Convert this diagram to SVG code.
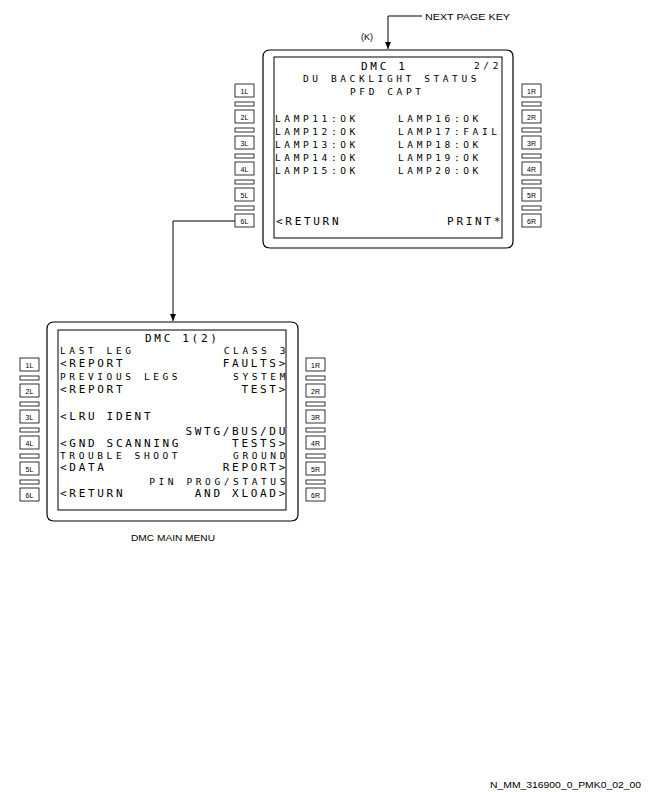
<svg xmlns="http://www.w3.org/2000/svg" width="648" height="792" viewBox="0 0 648 792">
<style>
.frame{fill:none;stroke:#000;stroke-width:1.2}
.scr{fill:none;stroke:#000;stroke-width:1}
.btn{fill:#fff;stroke:#000;stroke-width:0.8}
.bl{font-family:"Liberation Sans",Arial,sans-serif;font-size:7px;text-anchor:middle}
.L{font-family:"DejaVu Sans Mono",monospace;font-size:11px;letter-spacing:2.7px}
.S{font-family:"DejaVu Sans Mono",monospace;font-size:9.5px;letter-spacing:3.6px}
.Le{font-family:"DejaVu Sans Mono",monospace;font-size:11px;letter-spacing:2.7px;text-anchor:end}
.Se{font-family:"DejaVu Sans Mono",monospace;font-size:9.5px;letter-spacing:3.6px;text-anchor:end}
.cap{font-family:"Liberation Sans",Arial,sans-serif;font-size:9px}
.conn{fill:none;stroke:#000;stroke-width:1}
</style>
<defs>
<marker id="ah" markerWidth="8" markerHeight="10" refX="7" refY="4" orient="auto" markerUnits="userSpaceOnUse">
<path d="M0,1 L7,4 L0,7 Z" fill="#000"/>
</marker>
</defs>
<rect width="648" height="792" fill="#fff"/>

<g id="connectors">
<path class="conn" d="M422 16 H388 V49" marker-end="url(#ah)"/>
<path class="conn" d="M235 221 H173 V321" marker-end="url(#ah)"/>
</g>

<g id="next-page-key">
<text class="cap" x="425" y="20" font-size="10" textLength="85" lengthAdjust="spacingAndGlyphs">NEXT PAGE KEY</text>
<text class="cap" x="361" y="40" font-size="8">(K)</text>
</g>

<g id="mcdu-backlight">
<path class="frame" d="M270 50 H506 Q513 50 513 57 V241 Q513 248 506 248 H270 Q263 248 263 241 V57 Q263 50 270 50 Z"/>
<rect class="scr" x="274" y="57" width="228" height="181"/>
<g id="upper-left-keys">
<rect class="btn" x="235" y="84" width="19" height="13"/><text class="bl" x="244.5" y="93.5">1L</text>
<rect class="btn" x="235" y="102" width="19" height="4"/>
<rect class="btn" x="235" y="110" width="19" height="13"/><text class="bl" x="244.5" y="119.5">2L</text>
<rect class="btn" x="235" y="128" width="19" height="4"/>
<rect class="btn" x="235" y="136" width="19" height="13"/><text class="bl" x="244.5" y="145.5">3L</text>
<rect class="btn" x="235" y="154" width="19" height="4"/>
<rect class="btn" x="235" y="162" width="19" height="13"/><text class="bl" x="244.5" y="171.5">4L</text>
<rect class="btn" x="235" y="180" width="19" height="4"/>
<rect class="btn" x="235" y="188" width="19" height="13"/><text class="bl" x="244.5" y="197.5">5L</text>
<rect class="btn" x="235" y="206" width="19" height="4"/>
<rect class="btn" x="235" y="214" width="19" height="13"/><text class="bl" x="244.5" y="223.5">6L</text>
</g>
<g id="upper-right-keys">
<rect class="btn" x="522" y="84" width="19" height="13"/><text class="bl" x="531.5" y="93.5">1R</text>
<rect class="btn" x="522" y="102" width="19" height="4"/>
<rect class="btn" x="522" y="110" width="19" height="13"/><text class="bl" x="531.5" y="119.5">2R</text>
<rect class="btn" x="522" y="128" width="19" height="4"/>
<rect class="btn" x="522" y="136" width="19" height="13"/><text class="bl" x="531.5" y="145.5">3R</text>
<rect class="btn" x="522" y="154" width="19" height="4"/>
<rect class="btn" x="522" y="162" width="19" height="13"/><text class="bl" x="531.5" y="171.5">4R</text>
<rect class="btn" x="522" y="180" width="19" height="4"/>
<rect class="btn" x="522" y="188" width="19" height="13"/><text class="bl" x="531.5" y="197.5">5R</text>
<rect class="btn" x="522" y="206" width="19" height="4"/>
<rect class="btn" x="522" y="214" width="19" height="13"/><text class="bl" x="531.5" y="223.5">6R</text>
</g>
<text class="L" x="361" y="70">DMC 1</text>
<text class="Se" x="502" y="69">2/2</text>
<text class="S" x="303" y="82">DU BACKLIGHT STATUS</text>
<text class="S" x="350" y="95">PFD CAPT</text>
<text class="S" x="275" y="122">LAMP11:OK</text>
<text class="S" x="275" y="135">LAMP12:OK</text>
<text class="S" x="275" y="148">LAMP13:OK</text>
<text class="S" x="275" y="161">LAMP14:OK</text>
<text class="S" x="275" y="174">LAMP15:OK</text>
<text class="S" x="398" y="122">LAMP16:OK</text>
<text class="S" x="398" y="135">LAMP17:FAIL</text>
<text class="S" x="398" y="148">LAMP18:OK</text>
<text class="S" x="398" y="161">LAMP19:OK</text>
<text class="S" x="398" y="174">LAMP20:OK</text>
<text class="L" x="276" y="225">&lt;RETURN</text>
<text class="Le" x="503" y="225">PRINT*</text>
</g>

<g id="mcdu-main-menu">
<path class="frame" d="M54 322 H291 Q298 322 298 329 V514 Q298 521 291 521 H54 Q47 521 47 514 V329 Q47 322 54 322 Z"/>
<rect class="scr" x="58" y="330" width="228" height="180"/>
<g id="lower-left-keys">
<rect class="btn" x="20" y="358" width="19" height="13"/><text class="bl" x="29.5" y="367.5">1L</text>
<rect class="btn" x="20" y="376" width="19" height="4"/>
<rect class="btn" x="20" y="384" width="19" height="13"/><text class="bl" x="29.5" y="393.5">2L</text>
<rect class="btn" x="20" y="402" width="19" height="4"/>
<rect class="btn" x="20" y="410" width="19" height="13"/><text class="bl" x="29.5" y="419.5">3L</text>
<rect class="btn" x="20" y="428" width="19" height="4"/>
<rect class="btn" x="20" y="436" width="19" height="13"/><text class="bl" x="29.5" y="445.5">4L</text>
<rect class="btn" x="20" y="454" width="19" height="4"/>
<rect class="btn" x="20" y="462" width="19" height="13"/><text class="bl" x="29.5" y="471.5">5L</text>
<rect class="btn" x="20" y="480" width="19" height="4"/>
<rect class="btn" x="20" y="488" width="19" height="13"/><text class="bl" x="29.5" y="497.5">6L</text>
</g>
<g id="lower-right-keys">
<rect class="btn" x="306" y="358" width="19" height="13"/><text class="bl" x="315.5" y="367.5">1R</text>
<rect class="btn" x="306" y="376" width="19" height="4"/>
<rect class="btn" x="306" y="384" width="19" height="13"/><text class="bl" x="315.5" y="393.5">2R</text>
<rect class="btn" x="306" y="402" width="19" height="4"/>
<rect class="btn" x="306" y="410" width="19" height="13"/><text class="bl" x="315.5" y="419.5">3R</text>
<rect class="btn" x="306" y="428" width="19" height="4"/>
<rect class="btn" x="306" y="436" width="19" height="13"/><text class="bl" x="315.5" y="445.5">4R</text>
<rect class="btn" x="306" y="454" width="19" height="4"/>
<rect class="btn" x="306" y="462" width="19" height="13"/><text class="bl" x="315.5" y="471.5">5R</text>
<rect class="btn" x="306" y="480" width="19" height="4"/>
<rect class="btn" x="306" y="488" width="19" height="13"/><text class="bl" x="315.5" y="497.5">6R</text>
</g>
<text class="L" x="145" y="342">DMC 1(2)</text>
<text class="S" x="60" y="354">LAST LEG</text>
<text class="Se" x="289" y="354">CLASS 3</text>
<text class="L" x="60" y="367">&lt;REPORT</text>
<text class="Le" x="288" y="367">FAULTS&gt;</text>
<text class="S" x="60" y="380">PREVIOUS LEGS</text>
<text class="Se" x="289" y="380">SYSTEM</text>
<text class="L" x="60" y="393">&lt;REPORT</text>
<text class="Le" x="288" y="393">TEST&gt;</text>
<text class="L" x="60" y="420">&lt;LRU IDENT</text>
<text class="Le" x="288" y="435">SWTG/BUS/DU</text>
<text class="L" x="60" y="447">&lt;GND SCANNING</text>
<text class="Le" x="288" y="447">TESTS&gt;</text>
<text class="S" x="60" y="459">TROUBLE SHOOT</text>
<text class="Se" x="289" y="459">GROUND</text>
<text class="L" x="60" y="471">&lt;DATA</text>
<text class="Le" x="288" y="471">REPORT&gt;</text>
<text class="Se" x="289" y="485">PIN PROG/STATUS</text>
<text class="L" x="60" y="497">&lt;RETURN</text>
<text class="Le" x="288" y="497">AND XLOAD&gt;</text>
</g>

<g id="captions">
<text class="cap" x="131" y="541" textLength="84" lengthAdjust="spacingAndGlyphs">DMC MAIN MENU</text>
<text class="cap" x="490" y="788" textLength="151" lengthAdjust="spacingAndGlyphs">N_MM_316900_0_PMK0_02_00</text>
</g>
</svg>
